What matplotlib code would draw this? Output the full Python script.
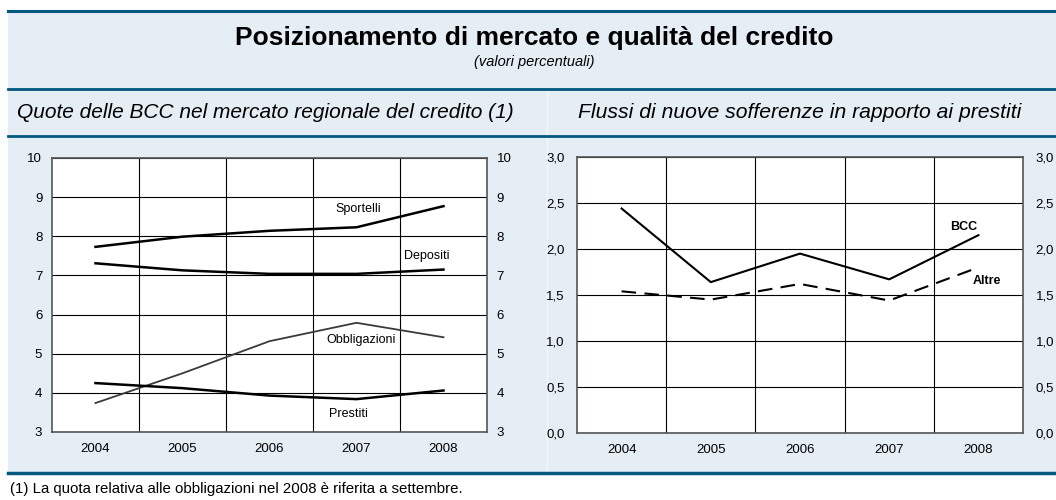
import numpy as np
import matplotlib
matplotlib.use("Agg")
from matplotlib import pyplot as plt
from matplotlib.patches import Rectangle
from matplotlib.lines import Line2D
from matplotlib.ticker import FuncFormatter, MultipleLocator

plt.rcParams['font.family'] = ['Liberation Sans', 'DejaVu Sans']

years = ['2004', '2005', '2006', '2007', '2008']

# quote BCC nel mercato regionale (%)
sportelli = [7.73, 7.99, 8.14, 8.23, 8.77]
depositi = [7.31, 7.13, 7.04, 7.04, 7.15]
obbligazioni = [3.74, 4.50, 5.32, 5.79, 5.42]
prestiti = [4.25, 4.12, 3.93, 3.84, 4.06]

# flussi di nuove sofferenze / prestiti (%)
bcc = [2.44, 1.64, 1.95, 1.67, 2.15]
altre = [1.54, 1.45, 1.62, 1.44, 1.80]

W, H = 1056, 500
BLUE = '#00577f'
BG = '#e6eef5'


def fx(x):
    return x / W


def fy(y):
    return 1 - y / H


fig = plt.figure(figsize=(W / 100, H / 100), dpi=100)
fig.patch.set_facecolor('white')

# sfondo azzurro
fig.patches.append(Rectangle((fx(8), fy(473)), fx(W - 8), (473 - 11) / H,
                             transform=fig.transFigure, facecolor=BG,
                             edgecolor='none', zorder=-10))
# divisorio verticale tra i pannelli
fig.lines.append(Line2D([fx(547), fx(547)], [fy(90), fy(472)],
                        transform=fig.transFigure, color='#f3f7fa', lw=1,
                        zorder=-6))
# linee blu orizzontali
for yy, lw in [(11, 2.2), (89, 2.0), (136, 2.0), (473, 2.5)]:
    fig.lines.append(Line2D([fx(8), 1], [fy(yy), fy(yy)],
                            transform=fig.transFigure, color=BLUE, lw=lw,
                            zorder=-5))

xc = fx(534)
fig.text(xc, fy(38), 'Posizionamento di mercato e qualità del credito',
         ha='center', va='center', fontsize=19, fontweight='bold')
fig.text(xc, fy(62), '(valori percentuali)', ha='center', va='center',
         fontsize=10.5, style='italic')
fig.text(fx(17), fy(112), 'Quote delle BCC nel mercato regionale del credito (1)',
         ha='left', va='center', fontsize=15, style='italic')
fig.text(fx(578), fy(112), 'Flussi di nuove sofferenze in rapporto ai prestiti',
         ha='left', va='center', fontsize=15.2, style='italic')
fig.text(fx(10), fy(489),
         '(1) La quota relativa alle obbligazioni nel 2008 è riferita a settembre.',
         ha='left', va='center', fontsize=10.8)


def style_axes(ax):
    x = np.arange(len(years))
    ax.set_xlim(-0.5, len(years) - 0.5)
    ax.set_xticks(x)
    ax.set_xticklabels(years)
    ax.set_xticks(np.arange(0.5, len(years) - 1, 1), minor=True)
    ax.grid(True, which='minor', axis='x', color='black', lw=0.8)
    ax.grid(True, which='major', axis='y', color='black', lw=0.8)
    ax.tick_params(axis='x', which='both', length=0, pad=8, labelsize=9.5)
    ax.tick_params(axis='y', length=0, labelsize=9.5, labelright=True, pad=7)
    for s in ax.spines.values():
        s.set_color('#555555')
        s.set_linewidth(1.2)
    ax.set_facecolor('white')
    ax.set_axisbelow(True)
    return x


ax1 = fig.add_axes([fx(52), fy(432), fx(487 - 52), (432 - 158) / H])
x = style_axes(ax1)
ax1.set_ylim(3, 10)
ax1.yaxis.set_major_locator(MultipleLocator(1))
ax1.plot(x, sportelli, color='black', lw=1.8)
ax1.plot(x, depositi, color='black', lw=1.8)
ax1.plot(x, obbligazioni, color='#3a3a3a', lw=1.3)
ax1.plot(x, prestiti, color='black', lw=1.8)
ax1.text(3.02, 8.70, 'Sportelli', ha='center', va='center', fontsize=9)
ax1.text(3.81, 7.49, 'Depositi', ha='center', va='center', fontsize=9)
ax1.text(3.05, 5.35, 'Obbligazioni', ha='center', va='center', fontsize=9)
ax1.text(2.91, 3.47, 'Prestiti', ha='center', va='center', fontsize=9)

ax2 = fig.add_axes([fx(577), fy(433), fx(1023 - 577), (433 - 157) / H])
x = style_axes(ax2)
ax2.set_ylim(0, 3)
ax2.yaxis.set_major_locator(MultipleLocator(0.5))
ax2.yaxis.set_major_formatter(FuncFormatter(lambda v, p: f'{v:.1f}'.replace('.', ',')))
ax2.tick_params(axis='y', pad=9)
ax2.plot(x, bcc, color='black', lw=1.5)
ax2.plot(x, altre, color='black', lw=1.5, dashes=(7, 4))
ax2.text(3.84, 2.24, 'BCC', ha='center', va='center', fontsize=9, fontweight='bold')
ax2.text(4.10, 1.65, 'Altre', ha='center', va='center', fontsize=9, fontweight='bold')

fig.savefig('out.png', dpi=100)
